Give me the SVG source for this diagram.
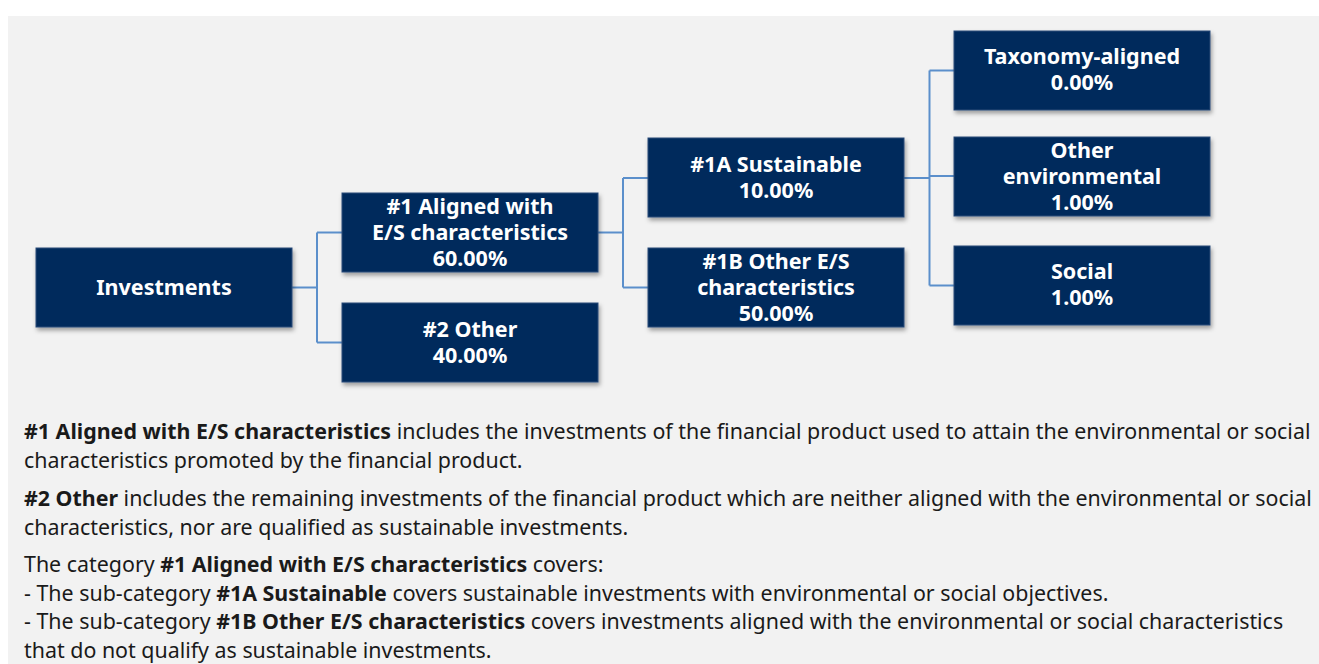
<svg xmlns="http://www.w3.org/2000/svg" width="1319" height="664" viewBox="0 0 1319 664">
<defs>
<filter id="sh" x="-10%" y="-10%" width="125%" height="140%">
<feDropShadow dx="1.5" dy="3" stdDeviation="2" flood-color="#000" flood-opacity="0.35"/>
</filter>
<style>
.box{fill:#002a5c;stroke:#2a4a78;stroke-width:1;filter:url(#sh)}
.bt{font-family:"Noto Sans","Open Sans",sans-serif;font-weight:700;font-size:21.5px;fill:#fff;text-anchor:middle}
.con{fill:none;stroke:#5b8fcb;stroke-width:2}
.p{font-family:"Noto Sans","Open Sans",sans-serif;font-size:21.4px;fill:#1a1a1a}
.b{font-weight:700}
</style>
</defs>
<rect x="0" y="0" width="1319" height="664" fill="#ffffff"/>
<rect x="8" y="16" width="1311" height="648" fill="#f2f2f2"/>
<g id="connectors">
<path class="con" d="M292 287.5H317M317 232.5V342.5M317 232.5H342M317 342.5H342"/>
<path class="con" d="M598 232.5H623M623 178V287.5M623 178H648M623 287.5H648"/>
<path class="con" d="M904 178H929.5M929.5 70.5V285.5M929.5 70.5H954M929.5 176H954M929.5 285.5H954"/>
</g>
<g id="n-investments"><rect class="box" x="36" y="248" width="256" height="79"/><text class="bt" x="164" y="294.5">Investments</text></g>
<g id="n-aligned"><rect class="box" x="342" y="193" width="256" height="79"/><text class="bt" x="470" y="214">#1 Aligned with</text><text class="bt" x="470" y="240">E/S characteristics</text><text class="bt" x="470" y="266">60.00%</text></g>
<g id="n-other"><rect class="box" x="342" y="303" width="256" height="79"/><text class="bt" x="470" y="336.5">#2 Other</text><text class="bt" x="470" y="362.5">40.00%</text></g>
<g id="n-1a"><rect class="box" x="648" y="138" width="256" height="79"/><text class="bt" x="776" y="171.5">#1A Sustainable</text><text class="bt" x="776" y="197.5">10.00%</text></g>
<g id="n-1b"><rect class="box" x="648" y="248" width="256" height="79"/><text class="bt" x="776" y="268.5">#1B Other E/S</text><text class="bt" x="776" y="294.5">characteristics</text><text class="bt" x="776" y="320.5">50.00%</text></g>
<g id="n-tax"><rect class="box" x="954" y="31" width="256" height="79"/><text class="bt" x="1082" y="63.5">Taxonomy-aligned</text><text class="bt" x="1082" y="89.5">0.00%</text></g>
<g id="n-otherenv"><rect class="box" x="954" y="137" width="256" height="79"/><text class="bt" x="1082" y="157.5">Other</text><text class="bt" x="1082" y="183.5">environmental</text><text class="bt" x="1082" y="209.5">1.00%</text></g>
<g id="n-social"><rect class="box" x="954" y="246" width="256" height="79"/><text class="bt" x="1082" y="279">Social</text><text class="bt" x="1082" y="305">1.00%</text></g>
<g id="legend">
<text class="p" x="24" y="439"><tspan class="b">#1 Aligned with E/S characteristics</tspan> includes the investments of the financial product used to attain the environmental or social</text>
<text class="p" x="24" y="468">characteristics promoted by the financial product.</text>
<text class="p" x="24" y="506"><tspan class="b">#2 Other</tspan> includes the remaining investments of the financial product which are neither aligned with the environmental or social</text>
<text class="p" x="24" y="535">characteristics, nor are qualified as sustainable investments.</text>
<text class="p" x="24" y="572">The category <tspan class="b">#1 Aligned with E/S characteristics</tspan> covers:</text>
<text class="p" x="24" y="600.5">- The sub-category <tspan class="b">#1A Sustainable</tspan> covers sustainable investments with environmental or social objectives.</text>
<text class="p" x="24" y="629">- The sub-category <tspan class="b">#1B Other E/S characteristics</tspan> covers investments aligned with the environmental or social characteristics</text>
<text class="p" x="24" y="658">that do not qualify as sustainable investments.</text>
</g>
</svg>
